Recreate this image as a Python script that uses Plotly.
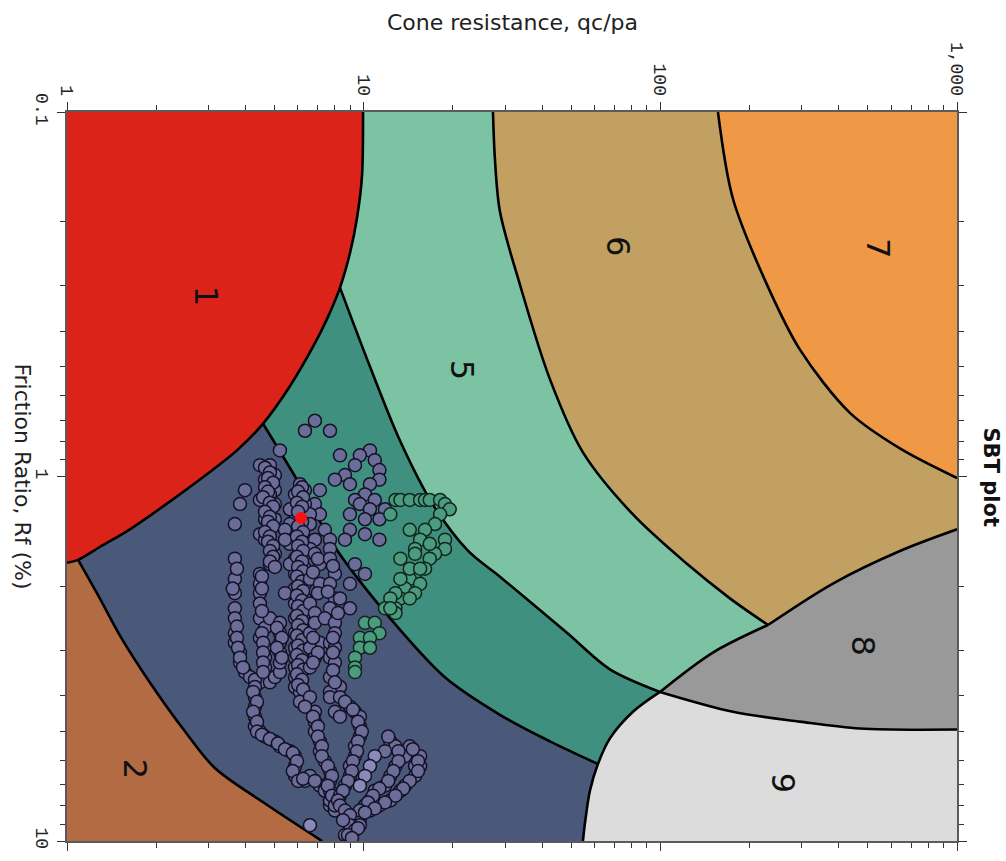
import numpy as np
import plotly.graph_objects as go

# ---- SBT zone boundaries as (qc/pa, Rf %) pairs ----
b_zone1 = [(9.95, 0.1), (9.87, 0.1499), (9.49, 0.196), (8.99, 0.2438), (8.32, 0.3032),
           (7.52, 0.370), (6.75, 0.4405), (5.64, 0.5655), (4.58, 0.7164), (3.74, 0.848),
           (3.03, 0.9723), (2.22, 1.172), (1.63, 1.396), (1.29, 1.561), (1.09, 1.693), (1.0, 1.725)]
b_2_3 = [(1.09, 1.693), (1.29, 2.159), (1.51, 2.736), (1.90, 3.667), (2.50, 5.007),
         (3.15, 6.305), (4.65, 7.891), (7.24, 10.0)]
b_3_4 = [(4.58, 0.7164), (6.10, 1.054), (8.00, 1.561), (12.27, 2.446), (18.79, 3.554),
         (28.8, 4.505), (42.46, 5.33), (61.6, 6.15)]
b_4_5 = [(8.32, 0.3032), (10.5, 0.4991), (13.25, 0.7966), (17.12, 1.194), (22.5, 1.60),
         (28.8, 1.883), (48.44, 2.685), (67.63, 3.382), (99.7, 3.9)]
b_5_6 = [(27.28, 0.1), (27.7, 0.1349), (28.8, 0.1876), (33.63, 0.2976), (42.46, 0.5413),
         (54.84, 0.8586), (80.85, 1.271), (122.9, 1.736), (171.6, 2.159), (230.6, 2.555)]
b_6_7 = [(156.4, 0.1), (175.7, 0.173), (228.8, 0.2976), (295.5, 0.4488), (435.5, 0.6689),
         (642.1, 0.8373), (1000, 1.0094)]
b_6_8 = [(230.6, 2.555), (381.8, 1.966), (642.1, 1.601), (1000, 1.396)]
b_5_8 = [(99.7, 3.9), (150.4, 3.041), (230.6, 2.555)]
b_8_9 = [(99.7, 3.9), (175.7, 4.421), (295.5, 4.705), (470.7, 4.914), (1000, 4.945)]
b_9 = [(99.7, 3.9), (80.85, 4.421), (67.63, 5.23), (61.6, 6.15), (57.9, 7.277),
       (55.7, 8.941), (54.84, 10.0)]

zone_colors = {
    "1": "#db2319", "2": "#b36b43", "3": "#4a5879", "4": "#40907f", "5": "#7cc3a3",
    "6": "#c1a062", "7": "#ef9947", "8": "#999999", "9": "#dcdcdc",
}

# zone label positions (qc/pa, Rf %)
zone_labels = {
    "1": (2.96, 0.319), "2": (1.70, 6.35), "5": (21.6, 0.509), "6": (72.0, 0.233),
    "7": (541, 0.236), "8": (482, 2.91), "9": (259, 6.92),
}

# ---- CPT data points (qc/pa, Rf %) ----
top_pts = [(6.85, 0.703), (6.34, 0.749), (7.70, 0.749), (5.22, 0.848)]
upper_loop = [(8.32, 0.875), (10.5, 0.848), (9.71, 0.875), (10.9, 0.902), (9.35, 0.931),
              (11.3, 0.960), (8.65, 0.991), (11.3, 1.02), (8.00, 1.02), (8.99, 1.05),
              (10.5, 1.05), (10.1, 1.12), (9.35, 1.16), (10.9, 1.16), (9.71, 1.19),
              (11.8, 1.23), (10.5, 1.23), (8.99, 1.27), (11.3, 1.31), (10.1, 1.31),
              (8.99, 1.40), (10.1, 1.44), (8.65, 1.49), (11.3, 1.49), (7.12, 1.09),
              (6.85, 1.19), (7.12, 1.27), (7.40, 1.40), (7.70, 1.49), (7.70, 1.58),
              (9.35, 1.74), (10.1, 1.85), (8.99, 1.97), (8.00, 2.16), (8.99, 2.30)]
left_column = [(4.47, 0.931), (4.83, 0.931), (5.02, 0.991), (4.65, 1.02), (4.83, 1.05),
               (5.02, 1.09), (4.83, 1.12), (4.47, 1.16), (5.02, 1.19), (4.83, 1.23),
               (4.65, 1.31), (5.02, 1.31), (4.83, 1.40), (4.47, 1.44), (4.65, 1.49),
               (4.83, 1.53), (5.02, 1.63), (4.83, 1.74),
               (4.65, 0.946), (4.83, 0.975), (4.76, 1.01), (4.95, 1.04), (4.65, 1.07),
               (4.76, 1.10), (4.58, 1.14), (4.83, 1.18), (4.95, 1.21), (4.65, 1.25),
               (4.83, 1.29), (4.76, 1.33), (4.95, 1.37), (4.65, 1.42), (4.83, 1.46),
               (4.76, 1.51), (4.95, 1.55), (4.83, 1.60), (4.95, 1.66), (4.83, 1.71),
               (5.02, 1.77)]
outer_column = [(3.98, 1.09), (3.83, 1.19), (3.68, 1.35), (3.68, 1.68), (3.68, 1.91),
                (3.68, 2.09), (3.68, 2.30), (3.68, 2.45), (3.68, 2.69), (3.68, 2.86),
                (3.83, 3.04), (3.83, 3.24), (3.98, 3.44), (4.14, 3.55), (4.47, 3.67),
                (4.83, 3.67), (5.02, 3.55), (5.22, 3.44),
                (3.74, 1.79), (3.62, 2.03), (3.74, 2.58), (3.74, 2.77), (3.77, 2.95),
                (3.83, 3.14), (3.92, 3.34), (4.30, 3.61)]
second_column = [(4.47, 1.85), (4.47, 1.97), (4.47, 2.09), (4.47, 2.23), (4.47, 2.45),
                 (4.65, 2.60), (4.47, 2.77), (4.65, 2.95), (4.65, 3.14), (4.65, 3.34),
                 (4.83, 2.45), (5.22, 2.52), (5.22, 2.69), (5.22, 2.86), (5.22, 3.04),
                 (5.22, 3.24),
                 (4.54, 1.88), (4.54, 2.03), (4.54, 2.34), (4.54, 2.69), (4.58, 2.86),
                 (4.58, 3.04), (4.58, 3.24), (4.58, 3.44), (5.10, 2.60), (5.30, 2.77),
                 (5.10, 2.95), (5.30, 3.14)]
central_column = [(6.10, 1.05), (6.34, 1.09), (5.87, 1.12), (6.10, 1.16), (6.34, 1.19),
                  (5.87, 1.23), (6.34, 1.27), (5.87, 1.31), (6.34, 1.35), (5.87, 1.40),
                  (6.10, 1.44), (6.34, 1.49), (5.87, 1.53), (6.10, 1.58), (6.34, 1.63),
                  (5.87, 1.68), (6.10, 1.74), (6.34, 1.79), (5.87, 1.85), (6.10, 1.91),
                  (6.34, 1.97), (5.87, 2.03), (6.10, 2.09), (6.34, 2.16), (5.87, 2.23),
                  (6.10, 2.30), (6.34, 2.37), (5.87, 2.45), (6.10, 2.52), (6.34, 2.60),
                  (5.87, 2.69), (6.10, 2.77), (6.34, 2.86), (5.87, 2.95), (6.10, 3.04),
                  (5.87, 3.14), (6.10, 3.24), (5.87, 3.34), (6.10, 3.44), (5.87, 3.55),
                  (6.10, 3.67), (5.87, 3.78), (6.10, 3.90),
                  (5.64, 1.23), (6.59, 1.27), (5.64, 1.35), (6.59, 1.35), (5.43, 1.40),
                  (6.85, 1.49), (5.64, 1.53), (6.59, 1.58), (5.43, 2.09), (5.64, 1.74),
                  (5.43, 1.49),
                  (6.20, 1.07), (6.01, 1.10), (6.25, 1.14), (5.96, 1.18), (6.20, 1.21),
                  (6.01, 1.25), (6.20, 1.33), (6.01, 1.37), (6.25, 1.42), (5.96, 1.46),
                  (6.20, 1.51), (6.01, 1.55), (6.25, 1.60), (5.96, 1.66), (6.20, 1.71),
                  (6.01, 1.77), (6.25, 1.82), (5.96, 1.88), (6.20, 1.94), (6.01, 2.00),
                  (6.25, 2.06), (5.96, 2.12), (6.20, 2.19), (6.01, 2.27), (6.25, 2.34),
                  (5.96, 2.41), (6.20, 2.49), (6.01, 2.56), (6.25, 2.64), (5.96, 2.73),
                  (6.20, 2.81), (6.01, 2.91), (6.25, 3.00), (5.96, 3.09), (6.20, 3.19),
                  (6.01, 3.29), (6.25, 3.39), (5.96, 3.49), (6.20, 3.61), (6.01, 3.73),
                  (6.25, 3.84)]
column_7 = [(6.85, 1.63), (7.12, 1.74), (6.59, 1.91), (7.12, 1.97), (6.59, 2.23),
            (6.85, 2.37), (6.59, 2.69), (7.12, 2.86), (6.59, 2.95), (6.85, 3.14), (6.59, 3.34),
            (7.01, 1.68), (6.75, 1.83), (7.01, 2.09), (6.85, 2.52), (6.75, 2.77),
            (7.01, 3.04), (6.75, 3.24)]
column_8 = [(7.70, 1.68), (8.00, 1.85), (7.70, 1.97), (8.32, 2.16), (7.70, 2.30),
            (7.40, 2.45), (8.00, 2.52), (8.00, 2.69), (7.70, 2.86), (8.00, 2.95),
            (7.70, 3.14), (8.00, 3.24), (7.70, 3.55), (8.32, 3.78), (7.70, 3.90),
            (7.88, 1.76), (7.57, 2.07), (8.19, 2.37), (7.88, 2.77), (7.88, 3.04),
            (7.88, 3.40), (8.00, 3.67)]
lower_a = [(4.30, 3.78), (4.30, 4.03), (4.30, 4.28), (4.30, 4.56), (4.30, 4.85),
           (4.47, 5.01), (4.65, 5.17), (5.02, 5.33), (5.22, 5.50), (5.64, 5.67),
           (5.87, 5.85), (5.87, 6.23), (5.87, 6.63), (6.34, 6.84), (6.59, 6.63),
           (7.12, 7.05), (7.70, 7.51), (7.70, 7.99), (8.32, 8.25), (8.65, 8.50),
           (8.99, 8.77), (8.99, 9.34), (9.35, 9.05), (9.71, 8.77),
           (4.24, 3.90), (4.37, 4.15), (4.24, 4.42), (4.37, 4.71), (4.37, 5.01),
           (4.54, 5.11), (4.83, 5.25), (5.14, 5.40), (5.43, 5.60), (5.77, 5.74),
           (5.96, 6.04), (5.77, 6.43), (6.01, 6.84), (6.25, 6.75), (6.85, 6.84),
           (7.40, 7.28), (7.70, 7.74), (8.00, 8.14), (8.52, 8.35), (8.85, 8.66),
           (9.20, 8.94)]
lower_b = [(6.10, 4.15), (6.59, 4.03), (6.85, 4.42), (6.85, 4.71), (6.85, 5.01),
           (7.12, 5.33), (7.12, 5.67), (7.40, 6.04), (7.70, 6.43), (7.70, 6.84),
           (7.70, 7.28), (7.70, 7.74), (8.00, 8.25),
           (6.34, 4.28), (6.75, 4.56), (7.01, 4.85), (7.01, 5.17), (7.23, 5.50),
           (7.23, 5.85), (7.57, 6.23), (7.82, 6.63), (7.57, 7.05), (7.82, 7.51)]
lower_c = [(7.70, 4.03), (8.32, 4.03), (8.99, 4.28), (9.35, 4.42), (9.71, 4.56),
           (9.71, 4.85), (9.71, 5.17), (9.35, 5.50), (9.35, 5.85), (8.99, 6.23),
           (8.99, 6.63), (8.65, 7.05), (8.32, 7.51), (8.00, 7.99), (8.00, 4.42), (8.32, 4.56),
           (8.65, 4.15), (9.20, 4.36), (9.57, 4.71), (9.86, 5.01), (9.57, 5.33),
           (9.50, 5.67), (9.20, 6.04), (9.13, 6.43), (8.85, 6.84), (8.52, 7.28), (8.19, 7.74)]
lower_loops = [(12.3, 5.33), (12.8, 5.50), (13.3, 5.85), (12.8, 6.23), (12.3, 6.63),
               (11.8, 7.05), (10.9, 7.28), (10.5, 7.74), (10.1, 7.99), (9.35, 8.50),
               (14.3, 5.50), (15.5, 5.85), (14.9, 6.23), (14.9, 6.63), (13.8, 7.05),
               (13.3, 7.28), (12.3, 7.74), (11.3, 7.99), (10.5, 8.25), (9.71, 8.50),
               (11.8, 5.67), (13.8, 5.85), (15.5, 6.23),
               (12.1, 5.17), (13.1, 5.67), (13.1, 6.04), (12.6, 6.43), (12.1, 6.84),
               (11.3, 7.18), (10.75, 7.51), (10.34, 7.84), (9.71, 8.25),
               (14.64, 5.60), (15.25, 6.04), (15.25, 6.43), (14.3, 6.84), (13.6, 7.18),
               (12.8, 7.51), (11.8, 7.84), (10.9, 8.14), (10.1, 8.35)]
bottom_blob = [(8.32, 7.99), (8.65, 8.25), (8.99, 8.50), (8.99, 9.05), (9.35, 9.34),
               (8.65, 9.63), (9.71, 9.05), (8.52, 8.77), (8.85, 9.63), (9.57, 9.22),
               (9.13, 9.81)]
light_pts = [(10.9, 5.85), (10.5, 6.23), (10.1, 6.63), (9.71, 7.05), (6.59, 9.05)]

green_pts = [(12.8, 1.16), (13.3, 1.16), (14.3, 1.16), (15.5, 1.16), (16.1, 1.16),
             (16.7, 1.16), (18.1, 1.16), (18.8, 1.19), (19.5, 1.23), (18.1, 1.27),
             (17.4, 1.35), (16.1, 1.40), (15.5, 1.49), (14.9, 1.58), (18.8, 1.49),
             (18.8, 1.58), (17.4, 1.63), (16.7, 1.68), (16.1, 1.79), (14.9, 1.85),
             (14.3, 1.91), (13.8, 2.03), (13.3, 2.16), (12.8, 2.30), (12.8, 2.37),
             (12.3, 1.27), (14.3, 1.40), (16.7, 1.53), (13.3, 1.91), (12.8, 2.09),
             (12.3, 2.16), (11.8, 2.30), (13.3, 1.68), (14.9, 1.63), (14.3, 1.79),
             (15.5, 1.79), (15.5, 1.97), (14.9, 2.09), (14.3, 2.16), (12.3, 2.30),
             (10.1, 2.52), (10.9, 2.52), (11.3, 2.69), (9.71, 2.77), (10.5, 2.77),
             (9.71, 2.95), (10.5, 2.95), (9.35, 3.14), (9.35, 3.34), (9.35, 3.44)]
current_pt = [(6.15, 1.30)]

purple_pts = (top_pts + upper_loop + left_column + outer_column + second_column +
              central_column + column_7 + column_8 + lower_a + lower_b + lower_c +
              lower_loops + bottom_blob)

# ---- zone polygons (layered back to front) ----
LO_Q, HI_Q, LO_R, HI_R = 0.5, 2000.0, 0.05, 20.0
zone_polys = [
    ("3", [(LO_Q, 1.70)] + b_2_3 + [(7.5, HI_R), (HI_Q, HI_R), (HI_Q, LO_R), (LO_Q, LO_R)]),
    ("4", [(3.54, LO_R), (3.54, 0.5313)] + b_3_4 + [(73.0, 10.0), (73.0, HI_R), (HI_Q, HI_R), (HI_Q, LO_R)]),
    ("5", [(8.0, LO_R), (8.0, 0.173)] + b_4_5 + [(136.0, 5.67), (HI_Q, HI_R), (HI_Q, LO_R)]),
    ("6", [(27.28, LO_R)] + b_5_6 + [(295.5, 3.44), (HI_Q, 3.44), (HI_Q, LO_R)]),
    ("7", [(156.4, LO_R)] + b_6_7 + [(HI_Q, 1.0094), (HI_Q, LO_R)]),
    ("1", [(LO_Q, LO_R), (9.95, LO_R)] + b_zone1 + [(LO_Q, 1.725)]),
    ("8", b_5_8 + b_6_8[1:] + [(HI_Q, 1.396), (HI_Q, 4.945)] + b_8_9[::-1][1:]),
    ("9", [(54.84, HI_R)] + b_9[::-1] + b_8_9[1:] + [(HI_Q, 4.945), (HI_Q, HI_R)]),
]
boundaries = [b_zone1, b_2_3, b_3_4, b_4_5, b_5_6, b_6_7, b_6_8, b_5_8, b_8_9, b_9]


def xs(pts):
    return [p[0] for p in pts]


def ys(pts):
    return [p[1] for p in pts]


fig = go.Figure()

for name, pts in zone_polys:
    fig.add_trace(go.Scatter(x=xs(pts), y=ys(pts), mode="lines", fill="toself",
                             fillcolor=zone_colors[name], line=dict(width=0),
                             hoverinfo="skip", showlegend=False))

for pts in boundaries:
    fig.add_trace(go.Scatter(x=xs(pts), y=ys(pts), mode="lines",
                             line=dict(color="#000000", width=2.6, shape="spline", smoothing=0.9),
                             hoverinfo="skip", showlegend=False))

marker_line = dict(color="#121226", width=1.5)
fig.add_trace(go.Scatter(x=xs(purple_pts), y=ys(purple_pts), mode="markers",
                         marker=dict(size=13, color="#6c6c98", line=marker_line),
                         showlegend=False))
fig.add_trace(go.Scatter(x=xs(light_pts), y=ys(light_pts), mode="markers",
                         marker=dict(size=13, color="#8a8ab8", line=marker_line),
                         showlegend=False))
fig.add_trace(go.Scatter(x=xs(green_pts), y=ys(green_pts), mode="markers",
                         marker=dict(size=13, color="#4b9b7f", line=dict(color="#10261e", width=1.5)),
                         showlegend=False))
fig.add_trace(go.Scatter(x=xs(current_pt), y=ys(current_pt), mode="markers",
                         marker=dict(size=12, color="#ff1010", line=dict(width=0)),
                         showlegend=False))

label_font = dict(family="DejaVu Sans", size=32, color="#111111")
for name, (q, r) in zone_labels.items():
    fig.add_annotation(x=np.log10(q), y=np.log10(r), xref="x", yref="y", text=name,
                       showarrow=False, textangle=90, font=label_font,
                       xanchor="center", yanchor="middle")

title_font = dict(family="DejaVu Sans", size=22, color="#222222")
fig.add_annotation(x=0.5, y=1, xref="paper", yref="paper", yshift=90,
                   text="Cone resistance, qc/pa", showarrow=False, font=title_font,
                   xanchor="center", yanchor="middle")
fig.add_annotation(x=0, y=0.5, xref="paper", yref="paper", xshift=-45,
                   text="Friction Ratio, Rf (%)", showarrow=False, textangle=90,
                   font=title_font, xanchor="center", yanchor="middle")
fig.add_annotation(x=1, y=0.5, xref="paper", yref="paper", xshift=34,
                   text="<b>SBT plot</b>", showarrow=False, textangle=90,
                   font=dict(family="DejaVu Sans", size=21, color="#111111"),
                   xanchor="center", yanchor="middle")

x_major = [1, 10, 100, 1000]
x_major_text = ["1", "10", "100", "1,000"]
x_minor = [m * d for d in (1, 10, 100) for m in range(2, 10)]
y_major = [0.1, 1, 10]
y_major_text = ["0.1", "1", "10"]
y_minor = [m * d for d in (0.1, 1) for m in range(2, 10)]

tick_font = dict(family="Liberation Mono", size=18, color="#222222")
axis_common = dict(showgrid=False, zeroline=False, showline=True, linecolor="#5a5a5a",
                   linewidth=1.5, mirror="allticks", ticks="outside", ticklen=8,
                   tickwidth=1.3, tickcolor="#333333", tickangle=90, tickfont=tick_font)

fig.update_xaxes(type="log", range=[0, 3], side="top", tickmode="array",
                 tickvals=x_major, ticktext=x_major_text,
                 minor=dict(tickmode="array", tickvals=x_minor, ticks="outside",
                            ticklen=5, tickwidth=1.2, tickcolor="#333333", showgrid=False),
                 **axis_common)
fig.update_yaxes(type="log", range=[1, -1], tickmode="array",
                 tickvals=y_major, ticktext=y_major_text,
                 minor=dict(tickmode="array", tickvals=y_minor, ticks="outside",
                            ticklen=5, tickwidth=1.2, tickcolor="#333333", showgrid=False),
                 **axis_common)

fig.update_layout(width=1006, height=861, margin=dict(l=67, r=49, t=112, b=10),
                  plot_bgcolor=zone_colors["2"], paper_bgcolor="#ffffff",
                  hovermode=False, showlegend=False)

fig.write_html("out.html")
